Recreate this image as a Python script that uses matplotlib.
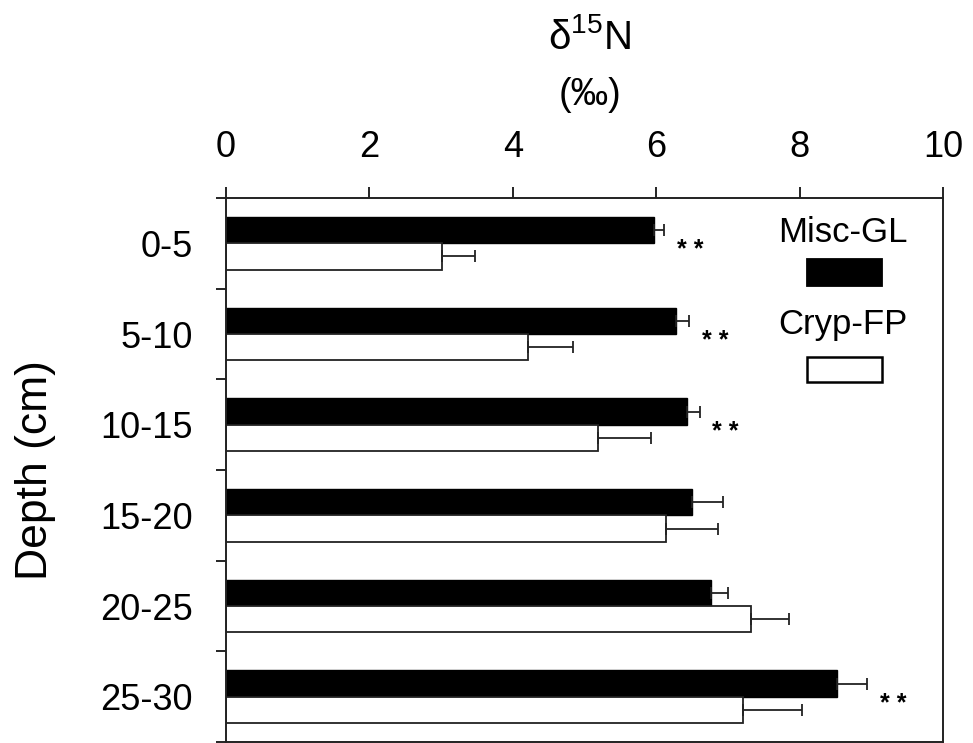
import numpy as np
import matplotlib
matplotlib.use('Agg')
import matplotlib.pyplot as plt
from matplotlib.patches import Rectangle

plt.rcParams['font.family'] = ['Liberation Sans', 'DejaVu Sans']
plt.rcParams['mathtext.default'] = 'regular'

# Data
depths = ['0-5', '5-10', '10-15', '15-20', '20-25', '25-30']
misc_gl = [5.97, 6.28, 6.43, 6.50, 6.76, 8.52]
misc_gl_err = [0.14, 0.18, 0.18, 0.43, 0.24, 0.42]
cryp_fp = [3.01, 4.21, 5.19, 6.14, 7.32, 7.21]
cryp_fp_err = [0.46, 0.63, 0.74, 0.72, 0.53, 0.82]
signif = ['**', '**', '**', '', '', '**']

fig = plt.figure(figsize=(9.73, 7.43), dpi=100)
ax = fig.add_axes([0.2323, 0.0013, 0.7369, 0.7322])

y = np.arange(len(depths))
h = 0.29
zeros = np.zeros(len(depths))

ax.barh(y - h / 2, misc_gl, height=h, color='black', edgecolor='black', linewidth=1.0)
ax.barh(y + h / 2, cryp_fp, height=h, color='white', edgecolor='#222222', linewidth=1.3)
ax.errorbar(misc_gl, y - h / 2, xerr=[zeros, misc_gl_err], fmt='none',
            ecolor='#222222', elinewidth=1.3, capsize=4.5, capthick=1.3)
ax.errorbar(cryp_fp, y + h / 2, xerr=[zeros, cryp_fp_err], fmt='none',
            ecolor='#222222', elinewidth=1.3, capsize=4.5, capthick=1.3)

# significance stars, placed just right of the Misc-GL error bar
for i, s in enumerate(signif):
    if s:
        ax.annotate(' '.join(s), xy=(misc_gl[i] + misc_gl_err[i], y[i]),
                    xytext=(9, -10), textcoords='offset points',
                    ha='left', va='baseline', fontsize=18, fontweight='bold', color='black')

ax.set_xlim(0, 10)
ax.set_ylim(len(depths) - 0.5, -0.5)
ax.xaxis.tick_top()
ax.set_xticks([0, 2, 4, 6, 8, 10])
ax.tick_params(axis='x', direction='out', length=8, width=1.2, pad=16, labelsize=26)

ax.set_yticks(y)
ax.set_yticklabels(depths)
ax.set_yticks(np.arange(-0.5, len(depths)), minor=True)
ax.tick_params(axis='y', which='major', length=0, pad=24, labelsize=26)
ax.tick_params(axis='y', which='minor', direction='out', length=7, width=1.2)

for sp in ax.spines.values():
    sp.set_linewidth(1.4)
    sp.set_color('#222222')

# legend drawn by hand: label above each swatch
ax.text(0.861, 0.937, 'Misc-GL', transform=ax.transAxes, ha='center', va='center', fontsize=25)
ax.add_patch(Rectangle((0.810, 0.838), 0.105, 0.050, transform=ax.transAxes,
                       facecolor='black', edgecolor='black', linewidth=1.3))
ax.text(0.861, 0.767, 'Cryp-FP', transform=ax.transAxes, ha='center', va='center', fontsize=25)
ax.add_patch(Rectangle((0.810, 0.662), 0.105, 0.046, transform=ax.transAxes,
                       facecolor='white', edgecolor='black', linewidth=1.8))

fig.text(0.606, 0.950, r'δ$^{15}$N', ha='center', va='center', fontsize=29)
fig.text(0.606, 0.872, '(‰)', ha='center', va='center', fontsize=27)
fig.text(0.036, 0.367, 'Depth (cm)', ha='center', va='center', rotation=90, fontsize=32)

plt.savefig('out.png', dpi=100)
